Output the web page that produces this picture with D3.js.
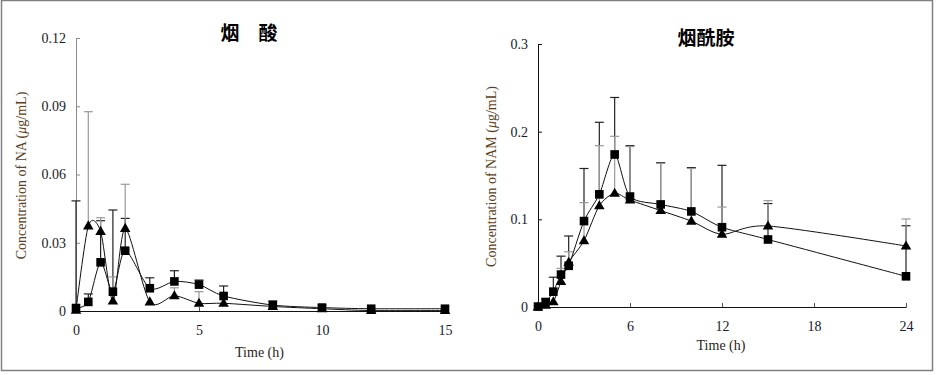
<!DOCTYPE html>
<html lang="en">
  <head>
    <meta charset="utf-8"/>
    <title>NA / NAM concentration</title>
    <script src="https://cdn.jsdelivr.net/npm/d3@7"></script>
    <style>
      body { margin: 0; background: #fff; }
      text { font-family: "Liberation Serif", "DejaVu Serif", serif; }
      .title { font-family: "Noto Sans CJK SC", sans-serif; font-weight: 700; }
    </style>
  </head>
  <body>
    <div id="chart"></div>
    <script type="text/javascript">

      // left panel: nicotinic acid (NA)
      var naTimes = [0, 0.5, 1, 1.5, 2, 3, 4, 5, 6, 8, 10, 12, 15];
      var naSquare = [0.0013, 0.004, 0.0214, 0.0085, 0.0265, 0.010, 0.013, 0.0116, 0.0066, 0.0026, 0.0015, 0.001, 0.001];
      var naSquareUp = [0.0484, 0.0075, 0.0397, 0.0444, 0.0407, 0.0146, 0.0177, 0.0136, 0.011, 0.0044, 0.0026, null, null];
      var naTriangle = [0.0003, 0.0374, 0.035, 0.0044, 0.0363, 0.004, 0.0067, 0.0034, 0.0034, 0.002, 0.001, 0.0002, 0.0002];
      var naTriangleUp = [null, 0.0876, 0.041, 0.015, 0.0557, null, 0.0102, 0.0085, null, null, null, null, null];
      var naYTicks = [0, 0.03, 0.06, 0.09, 0.12];
      var naXTicks = [0, 5, 10, 15];

      // right panel: nicotinamide (NAM)
      var namTimes = [0, 0.5, 1, 1.5, 2, 3, 4, 5, 6, 8, 10, 12, 15, 24];
      var namSquare = [0.0005, 0.0057, 0.0175, 0.037, 0.047, 0.098, 0.1285, 0.174, 0.126, 0.117, 0.109, 0.091, 0.077, 0.035];
      var namSquareUp = [null, 0.009, 0.034, 0.058, 0.081, 0.158, 0.2107, 0.239, 0.184, 0.1646, 0.159, 0.1616, 0.118, 0.0927];
      var namTriangle = [0, 0.002, 0.006, 0.029, 0.051, 0.0756, 0.1155, 0.1297, 0.122, 0.11, 0.098, 0.083, 0.0924, 0.0696];
      var namTriangleUp = [null, null, null, 0.044, 0.063, 0.119, 0.184, 0.1947, 0.183, 0.1638, 0.158, 0.114, 0.1213, 0.1004];
      var namYTicks = [0, 0.1, 0.2, 0.3];
      var namXTicks = [0, 6, 12, 18, 24];

      var width = 936, height = 375;

      var svg = d3.select("#chart")
        .append("svg")
        .attr("width", width)
        .attr("height", height)
      ;

      // outer frame
      svg.append("rect")
        .attr("x", 1.5).attr("y", 0.5)
        .attr("width", 931).attr("height", 370)
        .attr("fill", "none")
        .attr("stroke", "#808080")
        .attr("stroke-width", 1.5)
      ;

      var panels = [
        {
          title: "烟　酸", titleX: 249, titleY: 40,
          left: 76, right: 445, top: 38, bottom: 311,
          xMax: 15, yMax: 0.12, xTicks: naXTicks, yTicks: naYTicks,
          yFmt: function(d) { return d === 0 ? "0" : d3.format(".2f")(d); },
          yAxisColour: "#8a8a8a",
          yLabel: "NA", yLabelX: 21,
          xLabelY: 357, xTickY: 335,
          times: naTimes, square: naSquare, squareUp: naSquareUp,
          triangle: naTriangle, triangleUp: naTriangleUp
        },
        {
          title: "烟酰胺", titleX: 706, titleY: 45,
          left: 538, right: 906, top: 44, bottom: 307,
          xMax: 24, yMax: 0.3, xTicks: namXTicks, yTicks: namYTicks,
          yFmt: function(d) { return d === 0 ? "0" : d3.format(".1f")(d); },
          yAxisColour: "#111",
          yLabel: "NAM", yLabelX: 491,
          xLabelY: 350, xTickY: 331,
          times: namTimes, square: namSquare, squareUp: namSquareUp,
          triangle: namTriangle, triangleUp: namTriangleUp
        }
      ];

      panels.forEach(function(p) {
        var x = d3.scaleLinear().domain([0, p.xMax]).range([p.left, p.right]);
        var y = d3.scaleLinear().domain([0, p.yMax]).range([p.bottom, p.top]);
        var g = svg.append("g");

        // y axis: inward ticks
        var yAxis = g.append("g")
          .attr("transform", "translate(" + p.left + ",0)")
          .call(d3.axisRight(y).tickValues(p.yTicks).tickSize(4).tickSizeOuter(0).tickFormat(p.yFmt))
        ;
        yAxis.select(".domain").attr("stroke", p.yAxisColour);
        yAxis.selectAll(".tick line").attr("stroke", p.yAxisColour);
        yAxis.selectAll(".tick text")
          .attr("x", -10)
          .attr("text-anchor", "end")
          .attr("font-size", 14)
          .attr("font-family", "Liberation Serif")
          .attr("fill", "#1a1a2a")
        ;

        // x axis: ticks point up
        var xAxis = g.append("g")
          .attr("transform", "translate(0," + p.bottom + ")")
          .call(d3.axisTop(x).tickValues(p.xTicks).tickSize(4).tickSizeOuter(0).tickFormat(d3.format("d")))
        ;
        xAxis.select(".domain").attr("stroke", "#111");
        xAxis.selectAll(".tick line").attr("stroke", "#555");
        xAxis.selectAll(".tick text")
          .attr("y", p.xTickY - p.bottom)
          .attr("dy", 0)
          .attr("font-size", 14)
          .attr("font-family", "Liberation Serif")
          .attr("fill", "#1a1a2a")
        ;

        // titles
        g.append("text")
          .attr("class", "title")
          .attr("x", p.titleX).attr("y", p.titleY)
          .attr("text-anchor", "middle")
          .attr("font-size", 19)
          .text(p.title)
        ;
        g.append("text")
          .attr("x", (p.left + p.right) / 2 - 1).attr("y", p.xLabelY)
          .attr("text-anchor", "middle")
          .attr("font-size", 14)
          .attr("fill", "#2a2418")
          .text("Time (h)")
        ;
        var yl = g.append("text")
          .attr("transform", "translate(" + (p.yLabelX + 5) + "," + ((p.top + p.bottom) / 2 + 1) + ")rotate(-90)")
          .attr("text-anchor", "middle")
          .attr("font-size", 14)
          .attr("fill", "#5a4020")
        ;
        yl.append("tspan").text("Concentration of " + p.yLabel + " (");
        yl.append("tspan").attr("font-style", "italic").text("μ");
        yl.append("tspan").text("g/mL)");

        // error bars (upper only)
        var series = [
          { vals: p.square, up: p.squareUp, colour: "#222" },
          { vals: p.triangle, up: p.triangleUp, colour: "#999" }
        ];
        series.forEach(function(s) {
          var rows = p.times.map(function(t, i) { return { t: t, v: s.vals[i], u: s.up[i] }; })
            .filter(function(d) { return d.u != null; });
          g.selectAll(null).data(rows).enter().append("line")
            .attr("x1", function(d) { return x(d.t); })
            .attr("x2", function(d) { return x(d.t); })
            .attr("y1", function(d) { return y(d.v); })
            .attr("y2", function(d) { return y(d.u); })
            .attr("stroke", s.colour)
            .attr("stroke-width", 1.2)
          ;
          g.selectAll(null).data(rows).enter().append("line")
            .attr("x1", function(d) { return x(d.t) - 4.5; })
            .attr("x2", function(d) { return x(d.t) + 4.5; })
            .attr("y1", function(d) { return y(d.u); })
            .attr("y2", function(d) { return y(d.u); })
            .attr("stroke", s.colour)
            .attr("stroke-width", 1.2)
          ;
        });

        // smoothed lines
        var line = d3.line()
          .x(function(d) { return x(d[0]); })
          .y(function(d) { return y(d[1]); })
          .curve(d3.curveCardinal.tension(0.2))
        ;
        [p.square, p.triangle].forEach(function(vals) {
          g.append("path")
            .datum(p.times.map(function(t, i) { return [t, vals[i]]; }))
            .attr("d", line)
            .attr("fill", "none")
            .attr("stroke", "#111")
            .attr("stroke-width", 1)
          ;
        });

        // markers
        var tri = d3.symbol().type(d3.symbolTriangle).size(48);
        g.selectAll(null).data(p.times.map(function(t, i) { return [t, p.triangle[i]]; }))
          .enter().append("path")
          .attr("d", tri)
          .attr("transform", function(d) { return "translate(" + x(d[0]) + "," + (y(d[1]) + 0.5) + ")"; })
          .attr("fill", "#000")
        ;
        g.selectAll(null).data(p.times.map(function(t, i) { return [t, p.square[i]]; }))
          .enter().append("rect")
          .attr("x", function(d) { return x(d[0]) - 4.3; })
          .attr("y", function(d) { return y(d[1]) - 4.3; })
          .attr("width", 8.6).attr("height", 8.6)
          .attr("fill", "#000")
        ;
      });
    </script>
  </body>
</html>
